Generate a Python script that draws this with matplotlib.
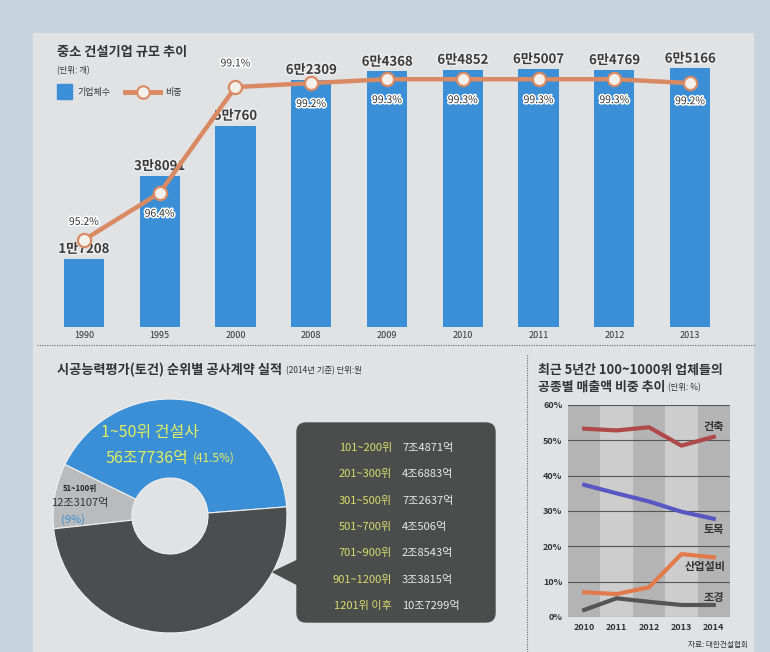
import matplotlib
matplotlib.use("Agg")
import matplotlib.pyplot as plt
import matplotlib.patheffects as pe
from matplotlib.patches import Rectangle, FancyBboxPatch, Polygon

plt.rcParams['font.family'] = ['Noto Sans CJK KR', 'DejaVu Sans']

# top chart: number of small/mid construction firms and their share
years_top = ['1990', '1995', '2000', '2008', '2009', '2010', '2011', '2012', '2013']
firm_counts = [17208, 38091, 50760, 62309, 64368, 64852, 65007, 64769, 65166]
share_pct = [95.2, 96.4, 99.1, 99.2, 99.3, 99.3, 99.3, 99.3, 99.2]

# donut: contract results by ranking (2014)
donut_labels = ['1~50위 건설사', '51~100위', '101위 이하']
donut_shares = [41.5, 9.0, 49.5]
donut_amounts = ['56조7736억', '12조3107억']
rank_groups = ['101~200위', '201~300위', '301~500위', '501~700위',
               '701~900위', '901~1200위', '1201위 이후']
rank_amounts = ['7조4871억', '4조6883억', '7조2637억', '4조506억',
                '2조8543억', '3조3815억', '10조7299억']

# right chart: sales share by work type (%)
years_r = [2010, 2011, 2012, 2013, 2014]
arch = [53.3, 52.8, 53.7, 48.5, 51.0]
civil = [37.4, 35.0, 32.7, 29.8, 27.8]
plant = [7.0, 6.5, 8.4, 17.8, 16.9]
landscape = [2.0, 5.3, 4.3, 3.4, 3.4]

W, H = 770, 652
fig = plt.figure(figsize=(W / 100, H / 100), dpi=100, facecolor='#c6d2dc')


def px_axes(x0, y0, x1, y1):
    return fig.add_axes([x0 / W, 1 - y1 / H, (x1 - x0) / W, (y1 - y0) / H])


dark = '#333333'
blue = '#3b8fd6'
orange = '#d98a62'

# background layer
bg = fig.add_axes([0, 0, 1, 1])
bg.set_xlim(0, W)
bg.set_ylim(H, 0)
bg.axis('off')
bg.add_patch(Rectangle((33, 33), 720, 630, color='#e0e2e4', zorder=0))
bg.plot([37, 755], [345, 345], ls=(0, (1, 1.2)), color='#666666', lw=0.8)
bg.plot([527, 527], [355, 652], ls=(0, (1, 1.2)), color='#666666', lw=0.8)

bg.text(57, 52, '중소 건설기업 규모 추이', fontsize=9.5, fontweight='bold', color=dark, va='center')
bg.text(57, 71, '(단위: 개)', fontsize=6, color=dark, va='center')
bg.add_patch(Rectangle((57, 84), 15, 15, color=blue))
bg.text(77, 92, '기업체수', fontsize=6.5, color=dark, va='center')
bg.plot([125, 160], [92, 92], color=orange, lw=3.5)
bg.plot([143], [92], 'o', ms=9, mfc='#f4f1ec', mec=orange, mew=1.5)
bg.text(165, 92, '비중', fontsize=6.5, color=dark, va='center')

t1 = bg.text(57, 370, '시공능력평가(토건) 순위별 공사계약 실적', fontsize=9.5,
             fontweight='bold', color=dark, va='center')
bg.annotate('(2014년 기준) 단위:원', xy=(1, 0.15), xycoords=t1, xytext=(3, 0),
            textcoords='offset points', fontsize=6, color=dark, va='bottom')

bg.text(538, 370, '최근 5년간 100~1000위 업체들의', fontsize=9.3, fontweight='bold',
        color=dark, va='center')
t2 = bg.text(538, 387, '공종별 매출액 비중 추이', fontsize=9.3, fontweight='bold',
             color=dark, va='center')
bg.annotate('(단위: %)', xy=(1, 0.15), xycoords=t2, xytext=(2, 0),
            textcoords='offset points', fontsize=6, color=dark, va='bottom')
bg.text(748, 645, '자료: 대한건설협회', fontsize=5.5, color=dark, ha='right', va='center')

# top chart
ax1 = px_axes(46, 40, 728, 327)
xs = list(range(len(years_top)))
ax1.bar(xs, firm_counts, width=0.53, color=blue)
ax1.set_xlim(-0.5, 8.5)
ax1.set_ylim(0, 72300)
ax1.patch.set_visible(False)
for s in ax1.spines.values():
    s.set_visible(False)
ax1.set_yticks([])
ax1.set_xticks(xs)
ax1.set_xticklabels(years_top, fontsize=6.5, color=dark)
ax1.tick_params(axis='x', length=0, pad=3)
for x, v in zip(xs, firm_counts):
    lab = f'{v // 10000}만{v % 10000}'
    ax1.annotate(lab, (x, v), xytext=(0, 2), textcoords='offset points',
                 ha='center', va='bottom', fontsize=9.5, fontweight='bold', color='#3a3a3a',
                 path_effects=[pe.withStroke(linewidth=2, foreground='#eeeeee')])

ax2 = ax1.twinx()
ax2.set_ylim(92.98, 100.30)
ax2.patch.set_visible(False)
for s in ax2.spines.values():
    s.set_visible(False)
ax2.set_yticks([])
ax2.plot(xs, share_pct, color=orange, lw=3.2, marker='o', ms=9.5,
         mfc='#f4f1ec', mec=orange, mew=1.6, zorder=3)
offs = [13, -15, 17, -15, -15, -15, -15, -15, -13]
for x, p, o in zip(xs, share_pct, offs):
    ax2.annotate(f'{p}%', (x, p), xytext=(0, o), textcoords='offset points',
                 ha='center', va='center', fontsize=7.5, color='#333333',
                 path_effects=[pe.withStroke(linewidth=2.2, foreground='white')])

# donut
axd = px_axes(45, 391, 295, 641)
axd.pie(donut_shares, colors=[blue, '#b9bbbd', '#4b4d4f'], startangle=4.5,
        counterclock=True, radius=1.17,
        wedgeprops=dict(width=0.79, edgecolor='#f0f0f0', linewidth=0.8))
axd.set_xlim(-1.25, 1.25)
axd.set_ylim(-1.25, 1.25)

yel = '#e4ee5e'
bg_t = fig.add_axes([0, 0, 1, 1])
bg_t.set_xlim(0, W)
bg_t.set_ylim(H, 0)
bg_t.axis('off')
bg_t.text(150, 432, donut_labels[0], fontsize=11.5, color=yel, ha='center', va='center')
t3 = bg_t.text(106, 458, donut_amounts[0], fontsize=11.5, color=yel, ha='left', va='center')
bg_t.annotate(f'({donut_shares[0]}%)', xy=(1, 0.1), xycoords=t3, xytext=(3, 0),
              textcoords='offset points', fontsize=8.5, color=yel, va='bottom')
bg_t.text(80, 488, donut_labels[1], fontsize=5.5, fontweight='bold', color='#222222',
          ha='center', va='center')
bg_t.text(80, 503, donut_amounts[1], fontsize=8, color='#333333', ha='center', va='center')
bg_t.text(73, 520, f'({donut_shares[1]:.0f}%)', fontsize=8, color='#3b8fd6',
          ha='center', va='center')

# callout box
box_c = '#4b4d4d'
bg_t.add_patch(FancyBboxPatch((297, 423), 198, 199, boxstyle='round,pad=0,rounding_size=9',
                              color=box_c))
bg_t.add_patch(Polygon([(298, 560), (298, 585), (273, 572)], closed=True, color=box_c))
for i, (g, a) in enumerate(zip(rank_groups, rank_amounts)):
    y = 448 + 26.3 * i
    bg_t.text(392, y, g, fontsize=8, color='#d6de6a', ha='right', va='center')
    bg_t.text(402, y, a, fontsize=8, color='#e8e8e8', ha='left', va='center')

# right chart
axr = px_axes(568, 405, 730, 617)
for i, yr in enumerate(years_r):
    axr.axvspan(yr - 0.5, yr + 0.5, color='#b4b4b4' if i % 2 == 0 else '#cdcdcd', lw=0)
for g in range(0, 70, 10):
    axr.axhline(g, color='#555555', lw=0.8)
axr.plot(years_r, arch, color='#b04a4a', lw=3)
axr.plot(years_r, civil, color='#5858c4', lw=3)
axr.plot(years_r, plant, color='#e27a4c', lw=3)
axr.plot(years_r, landscape, color='#555555', lw=3)
axr.set_xlim(2009.5, 2014.5)
axr.set_ylim(0, 60)
for s in axr.spines.values():
    s.set_visible(False)
axr.set_xticks(years_r)
axr.set_xticklabels([str(y) for y in years_r], fontsize=6.5, fontweight='bold', color=dark)
axr.set_yticks(range(0, 70, 10))
axr.set_yticklabels([f'{v}%' for v in range(0, 70, 10)], fontsize=6.5, fontweight='bold', color=dark)
axr.tick_params(length=0, pad=4)
axr.text(2014, 53.8, '건축', fontsize=8, fontweight='bold', color=dark, ha='center', va='center')
axr.text(2014, 24.9, '토목', fontsize=8, fontweight='bold', color=dark, ha='center', va='center')
axr.text(2013.75, 14.2, '산업설비', fontsize=8, fontweight='bold', color=dark, ha='center', va='center')
axr.text(2014, 5.4, '조경', fontsize=8, fontweight='bold', color=dark, ha='center', va='center')

fig.savefig('out.png', dpi=100, facecolor=fig.get_facecolor())
